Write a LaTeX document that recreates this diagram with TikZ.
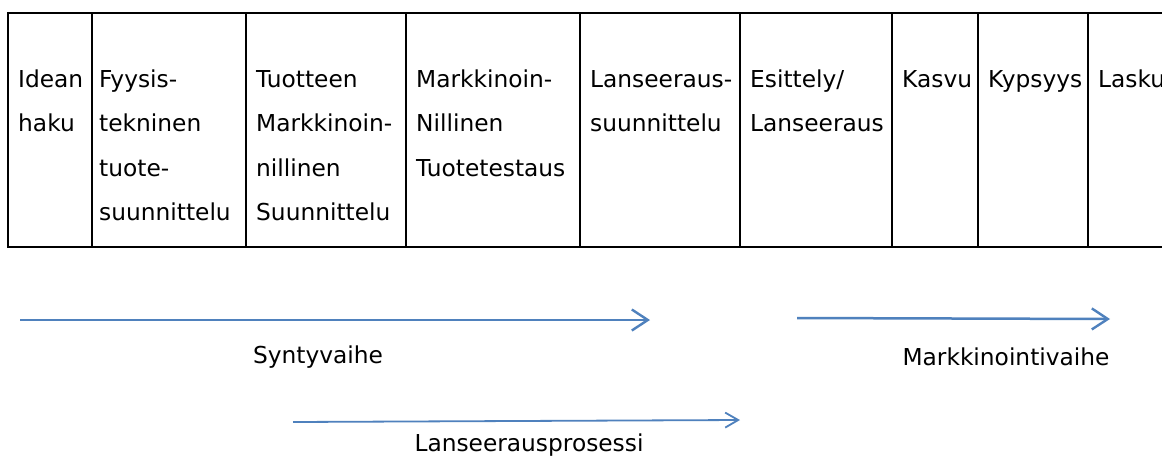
\documentclass[tikz,border=0pt]{standalone}
\usepackage{fontspec}
\setmainfont{DejaVu Sans}
\usetikzlibrary{arrows.meta}
\definecolor{phaseblue}{RGB}{79,129,189}
\newcommand\tabfont{\fontsize{23.3}{44.5}\selectfont}
\newcommand\topstrut{\rule{0pt}{20pt}}
\begin{document}
\begin{tikzpicture}[x=1pt,y=-1pt,
  cell/.style={anchor=north west,inner sep=0pt,align=left,font=\tabfont},
  label/.style={inner sep=0pt,font=\tabfont},
  rule/.style={line width=2.5pt},
  phase/.style={draw=phaseblue,line width=2.5pt,
    -{Straight Barb[length=16pt,width=21pt,line width=2.4pt]}},
  subphase/.style={draw=phaseblue,line width=1.8pt,
    -{Straight Barb[length=13pt,width=15pt,line width=1.8pt]}}]
\useasboundingbox (0,0) rectangle (1162,461);
\fill[white] (0,0) rectangle (1162,461);

% table frame and column rules (the table runs on past the right edge)
\draw[rule] (8,13) -- (1200,13) (8,247) -- (1200,247) (8,11.75) -- (8,248.25);
\foreach \cx in {92,246,406,580,740,892,978,1088}
  \draw[rule] (\cx,13) -- (\cx,247);

% cell texts
\node[cell] (c1) at (18,67)   {\topstrut Idean\\haku};
\node[cell] (c2) at (99,67)   {\topstrut Fyysis-\\tekninen\\tuote-\\suunnittelu};
\node[cell] (c3) at (256,67)  {\topstrut Tuotteen\\Markkinoin-\\nillinen\\Suunnittelu};
\node[cell] (c4) at (416,67)  {\topstrut Markkinoin-\\Nillinen\\Tuotetestaus};
\node[cell] (c5) at (590,67)  {\topstrut Lanseeraus-\\suunnittelu};
\node[cell] (c6) at (750,67)  {\topstrut Esittely/\\Lanseeraus};
\node[cell] (c7) at (902,67)  {\topstrut Kasvu};
\node[cell] (c8) at (988,67)  {\topstrut Kypsyys};
\node[cell] (c9) at (1098,67) {\topstrut Lasku};

% phase arrows
\coordinate (synA) at (20,320);
\coordinate (synB) at (650,320);
\coordinate (mkA) at (797,318);
\coordinate (mkB) at (1110,319);
\coordinate (lnA) at (293,422);
\coordinate (lnB) at (740,420);
\draw[phase] (synA) -- (synB);
\draw[phase] (mkA) -- (mkB);
\draw[subphase] (lnA) -- (lnB);

% phase labels
\node[label] (synL) at (318,357) {Syntyvaihe};
\node[label] (mkL) at (1006,357) {Markkinointivaihe};
\node[label] (lnL) at (529,445) {Lanseerausprosessi};
\end{tikzpicture}
\end{document}
